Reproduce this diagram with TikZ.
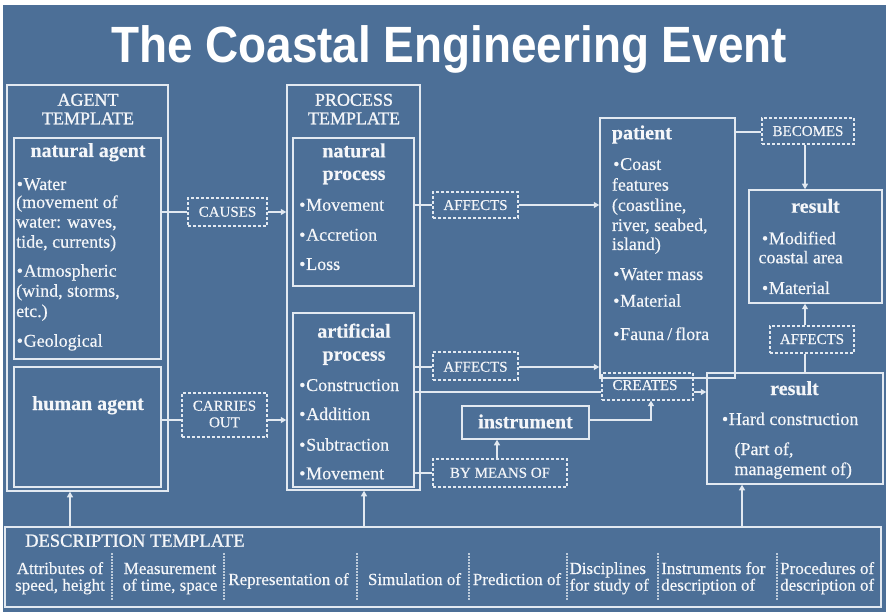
\documentclass[tikz,border=0pt]{standalone}
\usepackage{fontspec}
\usepackage{graphicx}
\setmainfont{Liberation Serif}[FakeBold=0.4]
\newfontfamily\capfont{Liberation Serif}[FakeBold=1.2]
\newfontfamily\titlefont{Liberation Sans}
\usetikzlibrary{arrows.meta,fit}
\definecolor{sea}{RGB}{76,111,151}
\definecolor{ink}{RGB}{244,246,249}
\definecolor{lineclr}{RGB}{226,233,241}
% bullet used in the lists
\newcommand\itembul{\textbullet\hspace{0.04em}}

\begin{document}
\begin{tikzpicture}[x=1pt,y=-1pt,
  boxln/.style={draw=lineclr,line width=1.5pt,inner sep=0pt},
  tagbox/.style={draw=lineclr,line width=1.2pt,dash pattern=on 3pt off 2pt,inner sep=0pt},
  lineto/.style={draw=lineclr,line width=1.2pt},
  arrowto/.style={lineto,-{Triangle[length=5.5pt,width=6pt]}},
  bodytx/.style={text=ink,inner sep=0pt,font=\fontsize{18}{20}\selectfont,anchor=base west},
  headtx/.style={text=ink,inner sep=0pt,font=\fontsize{20}{22}\selectfont\bfseries,anchor=base},
  tmpltx/.style={text=ink,inner sep=0pt,font=\capfont\fontsize{18}{19}\selectfont,anchor=base},
  labeltx/.style={text=ink,inner sep=0pt,font=\fontsize{15}{16}\selectfont,anchor=base},
  desctx/.style={text=ink,inner sep=0pt,font=\fontsize{17}{18}\selectfont,anchor=base},
  septx/.style={draw=lineclr!75!sea,line width=1.2pt,dash pattern=on 2pt off 1pt}
]
% background
\fill[white] (0,0) rectangle (886,612);
\fill[sea] (3,5) rectangle (886,612);
\useasboundingbox (0,0) rectangle (886,612);

% title
\node[text=white,inner sep=0pt,anchor=base,font=\titlefont\bfseries\fontsize{51}{56}\selectfont]
  (title) at (449,63) {\scalebox{0.9}[1]{The Coastal Engineering Event}};

% ---------------- agent template ----------------
\node[boxln,fit={(7,85)(168,491)}] (agentT) {};
\node[tmpltx] (agentT1) at (88,105.7) {AGENT};
\node[tmpltx] (agentT2) at (88,124.3) {TEMPLATE};
\node[boxln,fit={(14,138)(161,359)}] (natAgent) {};
\node[headtx] (natAgentH) at (88,157) {natural agent};
\node[bodytx] (na1) at (16.5,190) {\itembul Water};
\node[bodytx] (na2) at (16,208) {(movement of};
\node[bodytx] (na3) at (16,227.7) {water: waves,};
\node[bodytx] (na4) at (16,247.7) {tide, currents)};
\node[bodytx] (na5) at (16.5,276.7) {\itembul Atmospheric};
\node[bodytx] (na6) at (16,296.7) {(wind, storms,};
\node[bodytx] (na7) at (16,317) {etc.)};
\node[bodytx] (na8) at (16.5,346.7) {\itembul Geological};
\node[boxln,fit={(14,367)(161,487)}] (humAgent) {};
\node[headtx] (humAgentH) at (88,410) {human agent};

% ---------------- process template ----------------
\node[boxln,fit={(287,85)(420,490)}] (procT) {};
\node[tmpltx] (procT1) at (354,105.7) {PROCESS};
\node[tmpltx] (procT2) at (354,124.3) {TEMPLATE};
\node[boxln,fit={(293,138)(414,286)}] (natProc) {};
\node[headtx] (natProcH1) at (354,157.3) {natural};
\node[headtx] (natProcH2) at (354,180) {process};
\node[bodytx] (np1) at (299,210.7) {\itembul Movement};
\node[bodytx] (np2) at (299,240.7) {\itembul Accretion};
\node[bodytx] (np3) at (299,270) {\itembul Loss};
\node[boxln,fit={(293,313)(414,487)}] (artProc) {};
\node[headtx] (artProcH1) at (354,337.7) {artificial};
\node[headtx] (artProcH2) at (354,360.7) {process};
\node[bodytx] (ap1) at (299,391) {\itembul Construction};
\node[bodytx] (ap2) at (299,420) {\itembul Addition};
\node[bodytx] (ap3) at (299,450.7) {\itembul Subtraction};
\node[bodytx] (ap4) at (299,479.3) {\itembul Movement};

% ---------------- patient ----------------
\node[boxln,fit={(600,118)(735,378)}] (patient) {};
\node[headtx,anchor=base west] (patientH) at (611.7,139.3) {patient};
\node[bodytx] (pt1) at (613,170) {\itembul Coast};
\node[bodytx] (pt2) at (611.7,190.7) {features};
\node[bodytx] (pt3) at (611.7,211) {(coastline,};
\node[bodytx] (pt4) at (611.7,231) {river, seabed,};
\node[bodytx] (pt5) at (611.7,250) {island)};
\node[bodytx] (pt6) at (613,280) {\itembul Water mass};
\node[bodytx] (pt7) at (613,306.7) {\itembul Material};
\node[bodytx] (pt8) at (613,340) {\itembul Fauna\,/\,flora};

% ---------------- results ----------------
\node[boxln,fit={(749,190)(882,303)}] (resTop) {};
\node[headtx] (resTopH) at (815.5,212.7) {result};
\node[bodytx] (rt1) at (761.7,244.3) {\itembul Modified};
\node[bodytx] (rt2) at (758.3,263.3) {coastal area};
\node[bodytx] (rt3) at (761.7,294) {\itembul Material};

\node[boxln,fit={(707,373)(883,484)}] (resBot) {};
\node[headtx] (resBotH) at (794.5,395) {result};
\node[bodytx] (rb1) at (721.7,425) {\itembul Hard construction};
\node[bodytx] (rb2) at (734.3,455) {(Part of,};
\node[bodytx] (rb3) at (734.3,475) {management of)};

% ---------------- instrument ----------------
\node[boxln,fit={(462,406)(589,439)}] (instr) {};
\node[headtx] (instrH) at (525.5,428.3) {instrument};

% ---------------- relation tags ----------------
\node[tagbox,fit={(188,198)(267,226)}] (causes) {};
\node[labeltx] (causesT) at (227.5,216.7) {CAUSES};
\node[tagbox,fit={(182,393)(267,437)}] (carries) {};
\node[labeltx] (carriesT1) at (224.5,410.7) {CARRIES};
\node[labeltx] (carriesT2) at (224.5,427.3) {OUT};
\node[tagbox,fit={(433,192)(518,218)}] (affTop) {};
\node[labeltx] (affTopT) at (475.5,210) {AFFECTS};
\node[tagbox,fit={(433,352)(518,380)}] (affMid) {};
\node[labeltx] (affMidT) at (475.5,371.7) {AFFECTS};
\node[tagbox,fit={(433,459)(567,487)}] (byMeans) {};
\node[labeltx] (byMeansT) at (500,477.7) {BY MEANS OF};
\node[tagbox,fit={(602,373)(693,400)}] (creates) {};
\node[labeltx] (createsT) at (645,390) {CREATES};
\node[tagbox,fit={(762,118)(854,144)}] (becomes) {};
\node[labeltx] (becomesT) at (808,136) {BECOMES};
\node[tagbox,fit={(770,326)(854,353)}] (affRight) {};
\node[labeltx] (affRightT) at (812,344) {AFFECTS};

% ---------------- description template ----------------
\node[boxln,fit={(5,527)(881,607)}] (descT) {};
\node[tmpltx,anchor=base west,font=\capfont\fontsize{18.5}{19}\selectfont] (descTH) at (25,546.7) {DESCRIPTION TEMPLATE};
\node[desctx] (d1a) at (60,574) {Attributes of};
\node[desctx] (d1b) at (60,590.7) {speed, height};
\node[desctx] (d2a) at (170,574) {Measurement};
\node[desctx] (d2b) at (170,590.7) {of time, space};
\node[desctx] (d3) at (288.5,585) {Representation of};
\node[desctx] (d4) at (414.5,585) {Simulation of};
\node[desctx] (d5) at (517,585) {Prediction of};
\node[desctx,anchor=base west] (d6a) at (569.3,574) {Disciplines};
\node[desctx,anchor=base west] (d6b) at (569.3,590.7) {for study of};
\node[desctx,anchor=base west] (d7a) at (661,574) {Instruments for};
\node[desctx,anchor=base west] (d7b) at (661,590.7) {description of};
\node[desctx,anchor=base west] (d8a) at (780,574) {Procedures of};
\node[desctx,anchor=base west] (d8b) at (780,590.7) {description of};
\foreach \sx in {112,224,357,469,567,658,777}
  \draw[septx] (\sx,553) -- (\sx,600);

% ---------------- connectors ----------------
\coordinate (yCause) at (0,212);
\coordinate (yCarry) at (0,420);
\coordinate (yAffTop) at (0,205);
\coordinate (yAffMid) at (0,367);
\coordinate (yCreate) at (0,392);
\coordinate (yInstr) at (0,420);
\coordinate (yMeans) at (0,473);
\coordinate (yBecome) at (0,132);
\coordinate (xMeans) at (497,0);
\coordinate (xCreate) at (651,0);
\coordinate (xResult) at (805,0);
\coordinate (xAgent) at (70,0);
\coordinate (xProc) at (364,0);
\coordinate (xResBot) at (742,0);

\draw[lineto] (natAgent.east |- yCause) -- (causes.west |- yCause);
\draw[arrowto] (causes.east |- yCause) -- (procT.west |- yCause);
\draw[lineto] (humAgent.east |- yCarry) -- (carries.west |- yCarry);
\draw[arrowto] (carries.east |- yCarry) -- (procT.west |- yCarry);

\draw[lineto] (natProc.east |- yAffTop) -- (affTop.west |- yAffTop);
\draw[arrowto] (affTop.east |- yAffTop) -- (patient.west |- yAffTop);
\draw[lineto] (artProc.east |- yAffMid) -- (affMid.west |- yAffMid);
\draw[arrowto] (affMid.east |- yAffMid) -- (patient.west |- yAffMid);

\draw[lineto] (artProc.east |- yCreate) -- (creates.west |- yCreate);
\draw[arrowto] (creates.east |- yCreate) -- (resBot.west |- yCreate);
\draw[arrowto] (instr.east |- yInstr) -| (xCreate |- creates.south);

\draw[lineto] (artProc.east |- yMeans) -- (byMeans.west |- yMeans);
\draw[arrowto] (xMeans |- byMeans.north) -- (xMeans |- instr.south);

\draw[lineto] (patient.east |- yBecome) -- (becomes.west |- yBecome);
\draw[arrowto] (xResult |- becomes.south) -- (xResult |- resTop.north);
\draw[lineto] (xResult |- resBot.north) -- (xResult |- affRight.south);
\draw[arrowto] (xResult |- affRight.north) -- (xResult |- resTop.south);

\draw[arrowto] (xAgent |- descT.north) -- (xAgent |- agentT.south);
\draw[arrowto] (xProc |- descT.north) -- (xProc |- procT.south);
\draw[arrowto] (xResBot |- descT.north) -- (xResBot |- resBot.south);
\end{tikzpicture}
\end{document}
